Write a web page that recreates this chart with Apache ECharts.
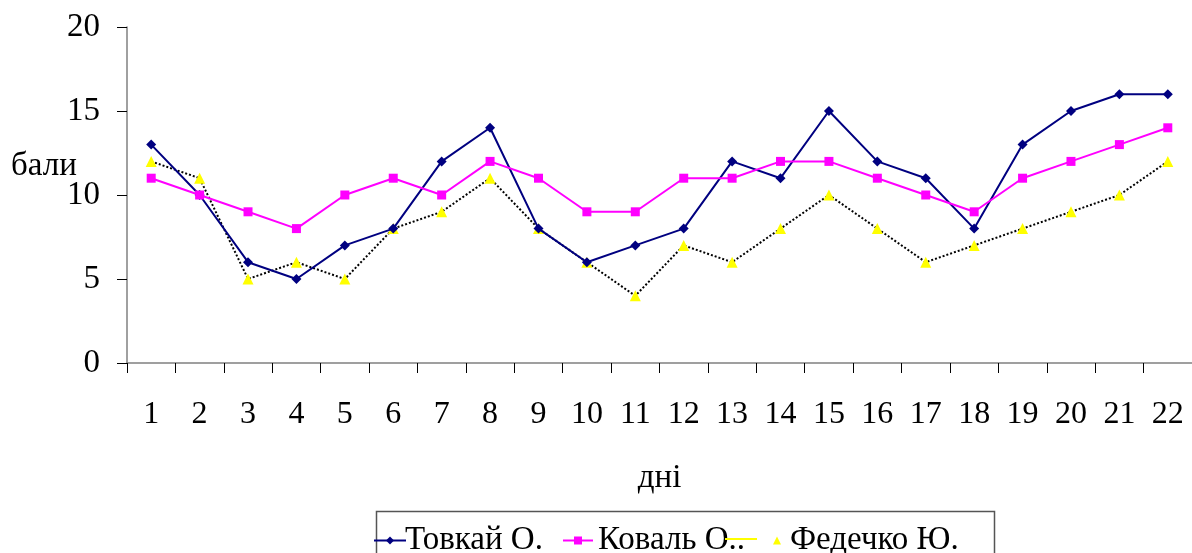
<!DOCTYPE html>
<html>
<head>
<meta charset="utf-8">
<script src="https://cdn.jsdelivr.net/npm/echarts@6/dist/echarts.min.js"></script>
<style>html,body{margin:0;padding:0;background:#fff}#c{width:1192px;height:553px}</style>
</head>
<body>
<div id="c"></div>
<script>
const categories = ['1','2','3','4','5','6','7','8','9','10','11','12','13','14','15','16','17','18','19','20','21','22'];
const tovkay = [13,10,6,5,7,8,12,14,8,6,7,8,12,11,15,12,11,8,13,15,16,16];
const koval = [11,10,9,8,10,11,10,12,11,9,9,11,11,12,12,11,10,9,11,12,13,14];
const fedechko = [12,11,5,6,5,8,9,11,8,6,4,7,6,8,10,8,6,7,8,9,10,12];
const yTicks = {min:0, max:20, interval:5};
const names = ['Товкай О.', 'Коваль О..', 'Федечко Ю.'];

const FONT = '"Liberation Serif","Times New Roman",serif';
const legText = {fontFamily:FONT, fontSize:33, color:'#000'};
const chart = echarts.init(document.getElementById('c'));
chart.setOption({
  animation:false,
  backgroundColor:'#fff',
  grid:{left:127, top:27, width:1071, height:336},
  xAxis:{
    type:'category', data:categories, boundaryGap:true,
    name:'дні', nameLocation:'middle', nameGap:99,
    nameTextStyle:{fontFamily:FONT, fontSize:33, color:'#000'},
    axisLine:{lineStyle:{color:'#808080', width:1.5}},
    axisTick:{show:true, length:10, lineStyle:{color:'#000'}},
    axisLabel:{fontFamily:FONT, fontSize:32, color:'#000', margin:36, interval:0}
  },
  yAxis:{
    type:'value', min:yTicks.min, max:yTicks.max, interval:yTicks.interval,
    splitLine:{show:false},
    axisLine:{show:true, lineStyle:{color:'#808080', width:1.5}},
    axisTick:{show:true, length:10, lineStyle:{color:'#000'}},
    axisLabel:{fontFamily:FONT, fontSize:33, color:'#000', margin:27}
  },
  graphic:[
    {type:'text', left:11, top:150, style:{text:'бали', font:'33px '+FONT, fill:'#000'}},
    {type:'rect', shape:{x:376.5, y:511.5, width:618, height:60}, style:{fill:'none', stroke:'#555', lineWidth:1.5}, z:0},
    {type:'line', shape:{x1:725, y1:539, x2:757, y2:539}, style:{stroke:'#ffff00', lineWidth:2}, z:5}
  ],
  legend:[
    {left:373, top:524, padding:0, itemWidth:32, itemHeight:10, textStyle:Object.assign({padding:[0,0,0,-6]}, legText),
     data:[{name:names[0]}]},
    {left:562, top:524, padding:0, itemWidth:30, itemHeight:10, textStyle:legText,
     data:[{name:names[1]}]},
    {left:773, top:524, padding:0, itemWidth:8, itemHeight:8, textStyle:Object.assign({padding:[0,0,0,4]}, legText),
     data:[{name:names[2], icon:'triangle', itemStyle:{color:'#ffff00'}}]}
  ],
  series:[
    {name:names[0], type:'line', data:tovkay, symbol:'diamond', symbolSize:10,
     lineStyle:{color:'#000080', width:2}, itemStyle:{color:'#000080'}},
    {name:names[1], type:'line', data:koval, symbol:'rect', symbolSize:9,
     lineStyle:{color:'#ff00ff', width:2}, itemStyle:{color:'#ff00ff'}},
    {name:names[2], type:'line', data:fedechko, symbol:'triangle', symbolSize:11,
     lineStyle:{color:'#000', width:2, type:[2,2]}, itemStyle:{color:'#ffff00'}, z:1}
  ]
});
</script>
</body>
</html>
